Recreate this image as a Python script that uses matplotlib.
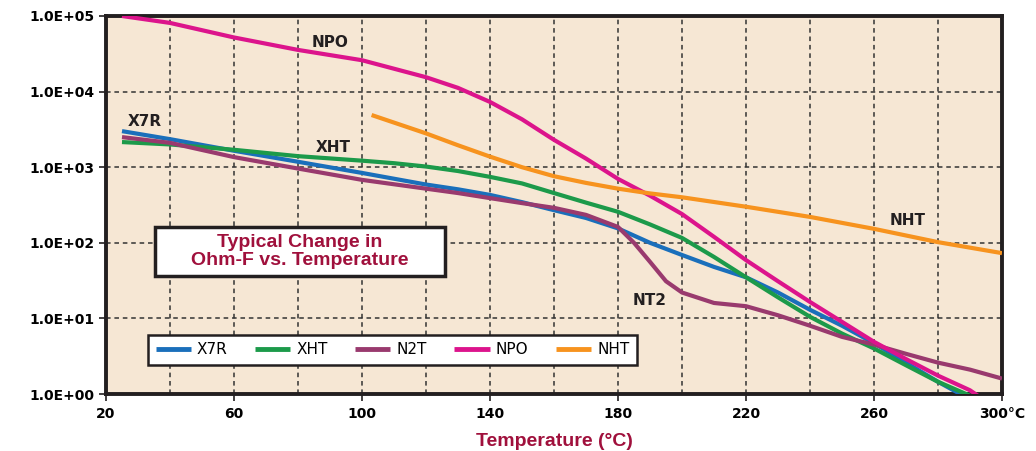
import numpy as np
import matplotlib
matplotlib.use('Agg')
import matplotlib.pyplot as plt
from matplotlib.patches import Rectangle

# Values (temperature in degC, ohm-farads)
x7r_t = [25, 40, 60, 80, 100, 120, 130, 140, 150, 160, 170, 180, 190, 200, 210, 220, 230, 240, 250, 260, 270, 280, 290]
x7r_v = [3000, 2350, 1650, 1180, 840, 590, 510, 430, 345, 270, 213, 155, 100, 69, 48, 35, 22, 13, 8, 4.7, 2.6, 1.45, 0.85]

xht_t = [25, 40, 60, 80, 100, 110, 120, 130, 140, 150, 160, 170, 180, 190, 200, 210, 220, 230, 240, 250, 260, 270, 280, 290, 295]
xht_v = [2150, 2000, 1700, 1400, 1220, 1130, 1020, 890, 745, 610, 455, 340, 257, 175, 116, 65, 35, 19, 10.5, 6.3, 4.0, 2.4, 1.45, 0.95, 0.75]

n2t_t = [25, 40, 60, 80, 100, 120, 130, 140, 150, 160, 170, 180, 185, 190, 195, 200, 210, 220, 230, 240, 250, 260, 270, 280, 290, 300]
n2t_v = [2500, 2100, 1360, 960, 680, 520, 455, 390, 335, 290, 234, 162, 100, 56, 31, 22, 16, 14.5, 11, 8, 5.7, 4.5, 3.4, 2.6, 2.1, 1.6]

npo_t = [25, 40, 60, 80, 100, 120, 130, 140, 150, 160, 170, 180, 190, 200, 210, 220, 230, 240, 250, 260, 270, 280, 290, 295]
npo_v = [100000, 81000, 52000, 35600, 26000, 15500, 11200, 7300, 4300, 2300, 1300, 700, 420, 240, 120, 59, 31, 16.5, 9, 4.9, 2.9, 1.75, 1.12, 0.8]

nht_t = [103, 120, 130, 140, 150, 160, 170, 180, 190, 200, 220, 240, 260, 280, 300]
nht_v = [4900, 2800, 1950, 1380, 1000, 760, 620, 520, 450, 400, 300, 220, 153, 102, 73]

series = [
    ('X7R', x7r_t, x7r_v, '#1a6fbb'),
    ('XHT', xht_t, xht_v, '#1c9a4a'),
    ('N2T', n2t_t, n2t_v, '#993a6e'),
    ('NPO', npo_t, npo_v, '#dc148c'),
    ('NHT', nht_t, nht_v, '#f7931e'),
]

x_ticks = [20, 60, 100, 140, 180, 220, 260, 300]
x_tick_labels = ['20', '60', '100', '140', '180', '220', '260', '300°C']
x_grid = [40, 60, 80, 100, 120, 140, 160, 180, 200, 220, 240, 260, 280]
y_ticks = [1, 10, 100, 1000, 10000, 100000]
y_tick_labels = ['1.0E+00', '1.0E+01', '1.0E+02', '1.0E+03', '1.0E+04', '1.0E+05']

dark_red = '#a0103c'
ink = '#231f20'
plt.rcParams['font.family'] = ['DejaVu Sans']

fig = plt.figure(figsize=(10.36, 4.51), dpi=100)
ax = fig.add_axes([106 / 1036, 1 - 394 / 451, 896 / 1036, 378 / 451])
ax.set_facecolor('#f6e7d4')

ax.set_yscale('log')
ax.set_xlim(20, 300)
ax.set_ylim(1, 100000)

for xg in x_grid:
    ax.axvline(xg, color='#333333', linestyle=(0, (3, 2.5)), linewidth=1.1, zorder=1)
for yg in y_ticks[1:-1]:
    ax.axhline(yg, color='#333333', linestyle=(0, (3, 2.5)), linewidth=1.1, zorder=1)

lines = []
for name, t, v, c in series:
    ln, = ax.plot(t, v, color=c, linewidth=3, label=name, zorder=3,
                  solid_capstyle='butt', solid_joinstyle='round')
    lines.append(ln)

ax.set_xticks(x_ticks)
ax.set_xticklabels(x_tick_labels, fontsize=10, fontweight='bold')
ax.set_yticks(y_ticks)
ax.set_yticklabels(y_tick_labels, fontsize=10, fontweight='bold')
ax.minorticks_off()
ax.tick_params(axis='both', direction='out', length=5, width=1.2, color=ink, pad=3)
ax.tick_params(axis='x', pad=4)

for sp in ax.spines.values():
    sp.set_linewidth(2.8)
    sp.set_color(ink)

ax.set_xlabel('Temperature (°C)', fontsize=14, fontweight='bold', color=dark_red,
              labelpad=9, family='Liberation Sans')

# curve labels
lbl = dict(fontsize=11, fontweight='bold', color=ink, zorder=4, ha='center', va='center')
ax.text(32, 4000, 'X7R', **lbl)
ax.text(90, 44000, 'NPO', **lbl)
ax.text(91, 1850, 'XHT', **lbl)
ax.text(270.5, 195, 'NHT', **lbl)
ax.text(190, 17, 'NT2', **lbl)

# title box
ax.add_patch(Rectangle((0.0547, 0.312), 0.3237, 0.130, transform=ax.transAxes,
                       facecolor='white', edgecolor=ink, linewidth=2.5, zorder=5))
ax.text(0.2165, 0.377, 'Typical Change in\nOhm-F vs. Temperature', transform=ax.transAxes,
        ha='center', va='center', fontsize=14, fontweight='bold', color=dark_red,
        linespacing=1.1, zorder=6, family='Liberation Sans')

leg = ax.legend(handles=lines, ncol=5, loc='lower left', bbox_to_anchor=(0.0469, 0.0767),
                borderaxespad=0, frameon=True, fancybox=False, fontsize=11, handlelength=2.3,
                columnspacing=1.8, handletextpad=0.4, borderpad=0.5)
leg.get_frame().set_edgecolor(ink)
leg.get_frame().set_linewidth(1.8)
leg.get_frame().set_facecolor('white')
leg.get_frame().set_alpha(1)
leg.set_zorder(7)
for h in leg.get_lines():
    h.set_linewidth(3.5)

fig.savefig('out.png', dpi=100, facecolor='white')
